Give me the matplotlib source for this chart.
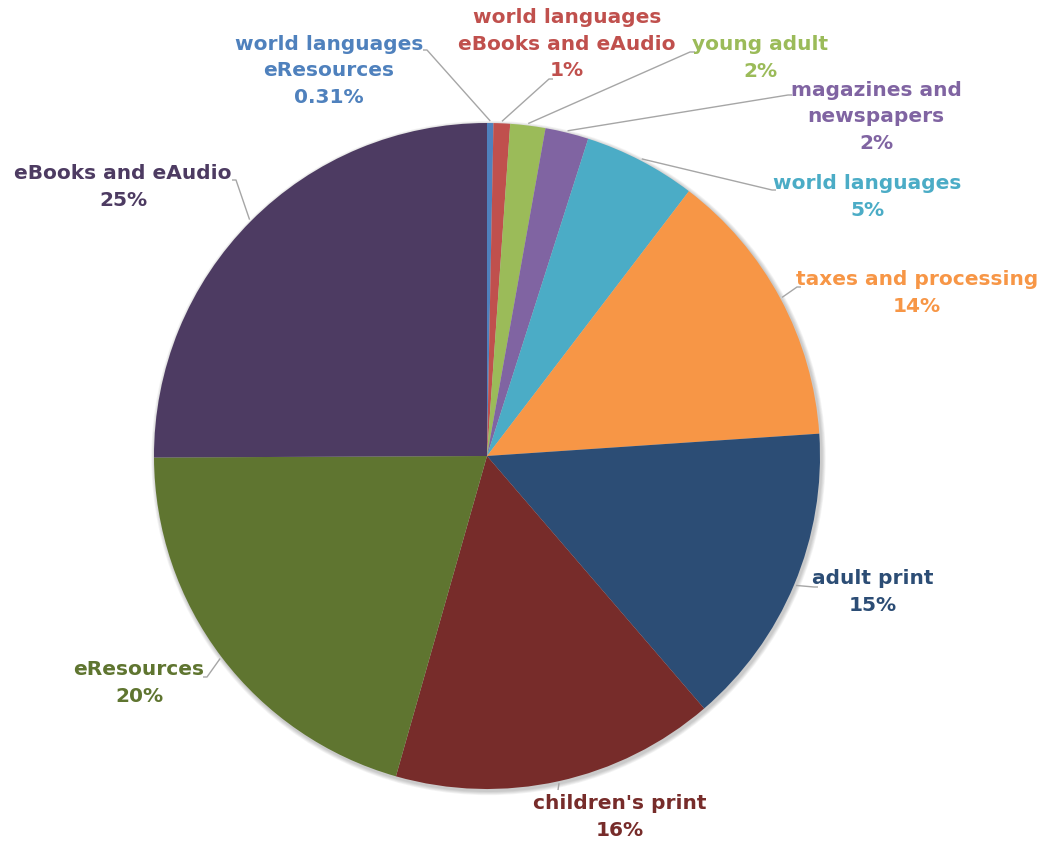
import numpy as np
import matplotlib.pyplot as plt
from matplotlib.patches import Circle

# budget shares, clockwise from 12 o'clock
categories = ["world languages\neResources", "world languages\neBooks and eAudio",
              "young adult", "magazines and\nnewspapers", "world languages",
              "taxes and processing", "adult print", "children's print",
              "eResources", "eBooks and eAudio"]
shares = [0.31, 0.8, 1.7, 2.1, 5.45, 13.55, 14.75, 15.7, 20.5, 25.05]
pct_labels = ["0.31%", "1%", "2%", "2%", "5%", "14%", "15%", "16%", "20%", "25%"]
colors = ["#4F81BD", "#C0504D", "#9BBB59", "#8064A2", "#4BACC6",
          "#F79646", "#2C4D75", "#772C2A", "#5F7530", "#4D3B62"]

# -----layout (pixel coords, y down)-----
cx, cy, r = 487, 456, 333
label_pos = [(329, 71), (567, 44), (760, 58), (876, 117), (867, 197),
             (917, 293), (873, 592), (620, 817), (139, 683), (123, 187)]
elbows = [(427, 50), (549, 79), (690, 52), (788, 95), (772, 190),
          (797, 287), (814, 587), (558, 790), (207, 677), (236, 180)]
stubs = [-4, 4, 5, 4, 4, 4, 4, 0, -4, -4]

fig = plt.figure(figsize=(10.54, 8.43), dpi=100)
ax = fig.add_axes([0, 0, 1, 1])

# soft shadow behind the pie
for k in range(5):
    ax.add_patch(Circle((cx + 1.5, cy + 2), r + 1 + k * 0.8, color="black",
                        alpha=0.045, lw=0, zorder=0))

# y axis is flipped, so counterclockwise in data reads clockwise on screen
wedges, _ = ax.pie(shares, colors=colors, center=(cx, cy), radius=r,
                   startangle=-90, counterclock=True,
                   wedgeprops=dict(linewidth=0))

ax.set_xlim(0, 1054)
ax.set_ylim(843, 0)
ax.set_aspect("equal")
ax.axis("off")

for w, name, pct, col, (lx, ly), (ex, ey), s in zip(
        wedges, categories, pct_labels, colors, label_pos, elbows, stubs):
    mid = np.deg2rad((w.theta1 + w.theta2) / 2)
    px = cx + (r + 2) * np.cos(mid)
    py = cy + (r + 2) * np.sin(mid)
    ax.plot([px, ex, ex + s], [py, ey, ey], color="#A6A6A6", lw=1,
            solid_capstyle="butt", zorder=1)
    ax.text(lx, ly, name + "\n" + pct, color=col, fontsize=14.5,
            fontweight="bold", ha="center", va="center",
            multialignment="center", linespacing=1.5,
            family="DejaVu Sans")

plt.savefig("out.png", dpi=100)
